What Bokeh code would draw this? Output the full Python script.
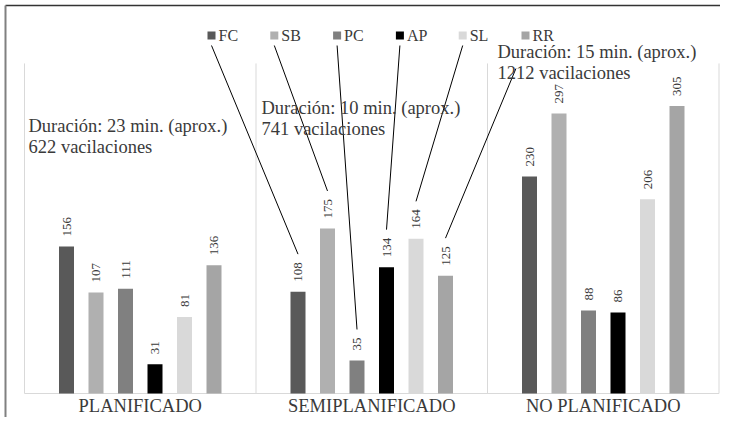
import math
from bokeh.plotting import figure
from bokeh.models import Range1d
from bokeh.core.properties import value
from bokeh.embed import file_html
from bokeh.resources import INLINE

# ---------------- data ----------------
groups = ["PLANIFICADO", "SEMIPLANIFICADO", "NO PLANIFICADO"]
series = ["FC", "SB", "PC", "AP", "SL", "RR"]
colors = ["#595959", "#b0b0b0", "#808080", "#000000", "#d9d9d9", "#a5a5a5"]
FC = [156, 108, 230]
SB = [107, 175, 297]
PC = [111, 35, 88]
AP = [31, 134, 86]
SL = [81, 164, 206]
RR = [136, 125, 305]
values = [FC, SB, PC, AP, SL, RR]
dur_lines = ["Duración: 23 min. (aprox.)", "Duración: 10 min. (aprox.)",
             "Duración: 15 min. (aprox.)"]
vac_lines = ["622 vacilaciones", "741 vacilaciones", "1212 vacilaciones"]
y_max = 350
leader_group = 1  # leader lines from legend go to SEMIPLANIFICADO labels

# ---------------- layout ----------------
W, H = 720, 417
LEFT = 24.0      # canvas x of the first category boundary
BASE = 393.0     # canvas y of the zero line
PX_X = 231.5     # pixels per category
PX_Y = 0.943     # pixels per unit
BAR_STEP = 29.5 / PX_X
BAR_W = 15.0 / PX_X
FONT = "Liberation Serif"
TXT = "#3a3a3a"


def xd(px):
    return (px - LEFT) / PX_X


def yd(py):
    return (BASE - py) / PX_Y


p = figure(width=W, height=H, output_backend="svg", toolbar_location=None,
           x_range=Range1d(xd(0), xd(W)), y_range=Range1d(yd(H), yd(0)),
           x_axis_location=None, y_axis_location=None, title=None,
           min_border=0)
p.outline_line_color = None
p.grid.visible = False
p.background_fill_color = "white"
p.border_fill_color = "white"

# outer border (top and left)
p.segment(x0=[xd(5)], y0=[yd(5)], x1=[xd(W)], y1=[yd(5)],
          line_color="#333333", line_width=1.5)
p.segment(x0=[xd(5)], y0=[yd(5)], x1=[xd(5)], y1=[yd(H)],
          line_color="#808080", line_width=2)

# category separators and baseline
ngroups = len(groups)
p.segment(x0=list(range(ngroups + 1)), y0=[0] * (ngroups + 1),
          x1=list(range(ngroups + 1)), y1=[y_max] * (ngroups + 1),
          line_color="#d9d9d9", line_width=1)
p.segment(x0=[0], y0=[0], x1=[ngroups], y1=[0], line_color="#d9d9d9", line_width=1.2)

# bars and labels
bar_x = []
for j, (s, vals, c) in enumerate(zip(series, values, colors)):
    xs = [i + 0.5 + (j - 2.5) * BAR_STEP for i in range(ngroups)]
    bar_x.append(xs)
    p.vbar(x=xs, width=BAR_W, bottom=0, top=vals, fill_color=c, line_color=None)
    p.text(x=xs, y=vals, text=[str(v) for v in vals], angle=math.pi / 2,
           text_align="left", text_baseline="middle", y_offset=-10,
           text_font=value(FONT), text_font_size="13px", text_color=TXT)

# legend
leg_x = [xd(211 + 62.8 * j) for j in range(len(series))]
leg_y = yd(35)
p.scatter(x=leg_x, y=[leg_y] * len(series), marker="square", size=8,
          fill_color=colors, line_color=None)
p.text(x=[lx + 7 / PX_X for lx in leg_x], y=[leg_y] * len(series), text=series,
       text_align="left", text_baseline="middle",
       text_font=value(FONT), text_font_size="16px", text_color=TXT)

# leader lines from legend to SEMIPLANIFICADO labels
line_top_y = yd(45)
stop_y = [line_top_y] * 5 + [yd(68)]
lx0, ly0, lx1, ly1 = [], [], [], []
for j, vals in enumerate(values):
    v = vals[leader_group]
    bx = bar_x[j][leader_group]
    by = v + (10 + len(str(v)) * 6.5 + 8) / PX_Y
    tx, ty = leg_x[j], line_top_y
    frac = (stop_y[j] - by) / (ty - by)
    lx0.append(bx)
    ly0.append(by)
    lx1.append(bx + (tx - bx) * frac)
    ly1.append(stop_y[j])
p.segment(x0=lx0, y0=ly0, x1=lx1, y1=ly1, line_color="black", line_width=1)

# annotations
ann_x = [xd(28), xd(261), xd(497)]
ann_y = [yd(125), yd(107), yd(51)]
p.text(x=ann_x, y=ann_y, text=dur_lines, text_align="left", text_baseline="middle",
       text_font=value(FONT), text_font_size="18.5px", text_color=TXT)
p.text(x=ann_x, y=[a - 21 / PX_Y for a in ann_y], text=vac_lines, text_align="left",
       text_baseline="middle", text_font=value(FONT), text_font_size="18.5px",
       text_color=TXT)

# category labels
p.text(x=[i + 0.5 for i in range(ngroups)], y=[yd(405)] * ngroups, text=groups,
       text_align="center", text_baseline="middle",
       text_font=value(FONT), text_font_size="18.5px", text_color=TXT)

open("out.html", "w").write(file_html(p, INLINE))
